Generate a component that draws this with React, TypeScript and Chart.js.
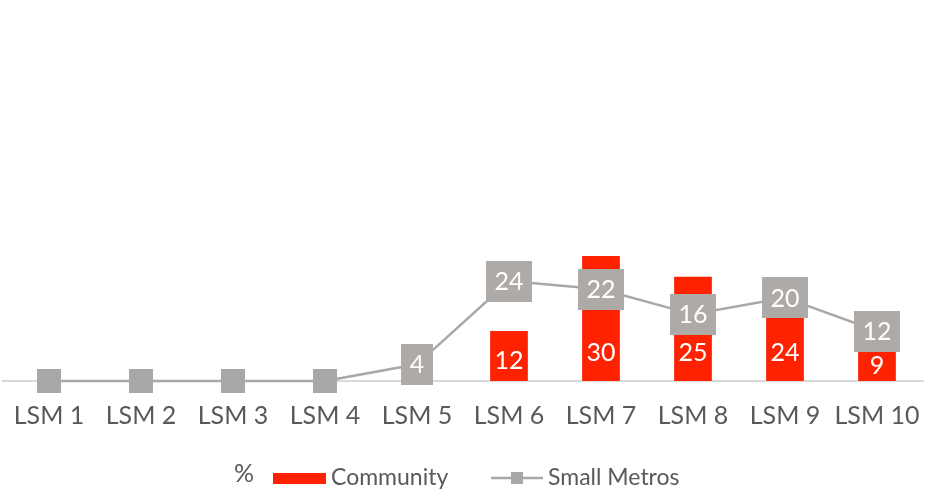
import React, { useEffect, useRef } from "react";
import { Chart, registerables } from "chart.js";

Chart.register(...registerables);

const categories = ["LSM 1", "LSM 2", "LSM 3", "LSM 4", "LSM 5", "LSM 6", "LSM 7", "LSM 8", "LSM 9", "LSM 10"];
const communityValues = [0, 0, 0, 0, 0, 12, 30, 25, 24, 9];
const smallMetrosValues = [0, 0, 0, 0, 4, 24, 22, 16, 20, 12];
const communityName = "Community";
const smallMetrosName = "Small Metros";
const unitLabel = "%";

const FONT = "Lato, 'Open Sans', sans-serif";
const TEXT_COLOR = "#595959";
const RED = "#FF2200";
const LINE_GRAY = "#A8A8A8";
const BOX_GRAY = "#AEAAA8";

const labelsPlugin = {
  id: "customLabels",
  afterDatasetsDraw(chart: any) {
    const ctx = chart.ctx as CanvasRenderingContext2D;
    const base = chart.scales.y.getPixelForValue(0);
    ctx.save();
    ctx.font = `25px ${FONT}`;
    ctx.textAlign = "center";
    ctx.textBaseline = "middle";
    const barMeta = chart.getDatasetMeta(0);
    barMeta.data.forEach((el: any, i: number) => {
      const v = communityValues[i];
      if (!v) return;
      const h = base - el.y;
      const y = base - Math.min(28, h * 0.4);
      ctx.fillStyle = "#FFFFFF";
      ctx.fillText(String(v), el.x, y);
    });
    const lineMeta = chart.getDatasetMeta(1);
    lineMeta.data.forEach((el: any, i: number) => {
      const v = smallMetrosValues[i];
      if (!v) return;
      const t = String(v);
      const w = ctx.measureText(t).width + 17;
      const h = 41;
      ctx.fillStyle = BOX_GRAY;
      ctx.fillRect(Math.round(el.x - w / 2), Math.round(el.y - h / 2), Math.round(w), h);
      ctx.fillStyle = "#FFFFFF";
      ctx.fillText(t, el.x, el.y + 1);
    });
    ctx.restore();
  },
  afterDraw(chart: any) {
    const ctx = chart.ctx as CanvasRenderingContext2D;
    const cy = 478;
    ctx.save();
    ctx.textBaseline = "middle";
    ctx.textAlign = "left";
    ctx.fillStyle = TEXT_COLOR;
    ctx.font = `25px ${FONT}`;
    ctx.fillText(unitLabel, 234, cy - 4);
    ctx.font = `23px ${FONT}`;
    ctx.fillStyle = RED;
    ctx.fillRect(273, 473, 53, 11);
    ctx.fillStyle = TEXT_COLOR;
    ctx.fillText(communityName, 331, cy);
    ctx.strokeStyle = LINE_GRAY;
    ctx.lineWidth = 2.5;
    ctx.beginPath();
    ctx.moveTo(491, cy);
    ctx.lineTo(543, cy);
    ctx.stroke();
    ctx.fillStyle = LINE_GRAY;
    ctx.fillRect(511, cy - 6, 12, 12);
    ctx.fillStyle = TEXT_COLOR;
    ctx.fillText(smallMetrosName, 548, cy);
    ctx.restore();
  },
};

export default function App() {
  const canvasRef = useRef<HTMLCanvasElement | null>(null);

  useEffect(() => {
    if (!canvasRef.current) return;
    const chart = new Chart(canvasRef.current, {
      type: "bar",
      data: {
        labels: categories,
        datasets: [
          {
            type: "bar",
            label: communityName,
            data: communityValues,
            backgroundColor: RED,
            barPercentage: 0.41,
            categoryPercentage: 1,
            order: 1,
          },
          {
            type: "line",
            label: smallMetrosName,
            data: smallMetrosValues,
            borderColor: LINE_GRAY,
            borderWidth: 2.5,
            pointStyle: "rect",
            pointRadius: 17,
            pointBackgroundColor: LINE_GRAY,
            pointBorderWidth: 0,
            tension: 0,
            clip: false,
            order: 0,
          } as any,
        ],
      },
      options: {
        animation: false,
        responsive: false,
        maintainAspectRatio: false,
        layout: { autoPadding: false, padding: { top: 6, left: 3, right: 3, bottom: 0 } },
        plugins: {
          legend: { display: false },
          tooltip: { enabled: false },
          title: { display: false },
        },
        scales: {
          x: {
            grid: { display: false, drawTicks: false },
            border: { display: true, color: "#D9D9D9", width: 2 },
            ticks: {
              color: TEXT_COLOR,
              font: { family: FONT, size: 25 },
              padding: 20,
              maxRotation: 0,
              autoSkip: false,
            },
            afterFit: (scale: any) => {
              scale.height = 117;
              scale.paddingLeft = 0;
              scale.paddingRight = 0;
            },
          },
          y: {
            display: false,
            min: 0,
            max: 90,
          },
        },
      } as any,
      plugins: [labelsPlugin],
    });
    return () => chart.destroy();
  }, []);

  return (
    <div style={{ position: "fixed", left: 0, top: 0, width: 926, height: 498, background: "#fff" }}>
      <canvas ref={canvasRef} width={926} height={498} style={{ width: 926, height: 498 }} />
    </div>
  );
}
